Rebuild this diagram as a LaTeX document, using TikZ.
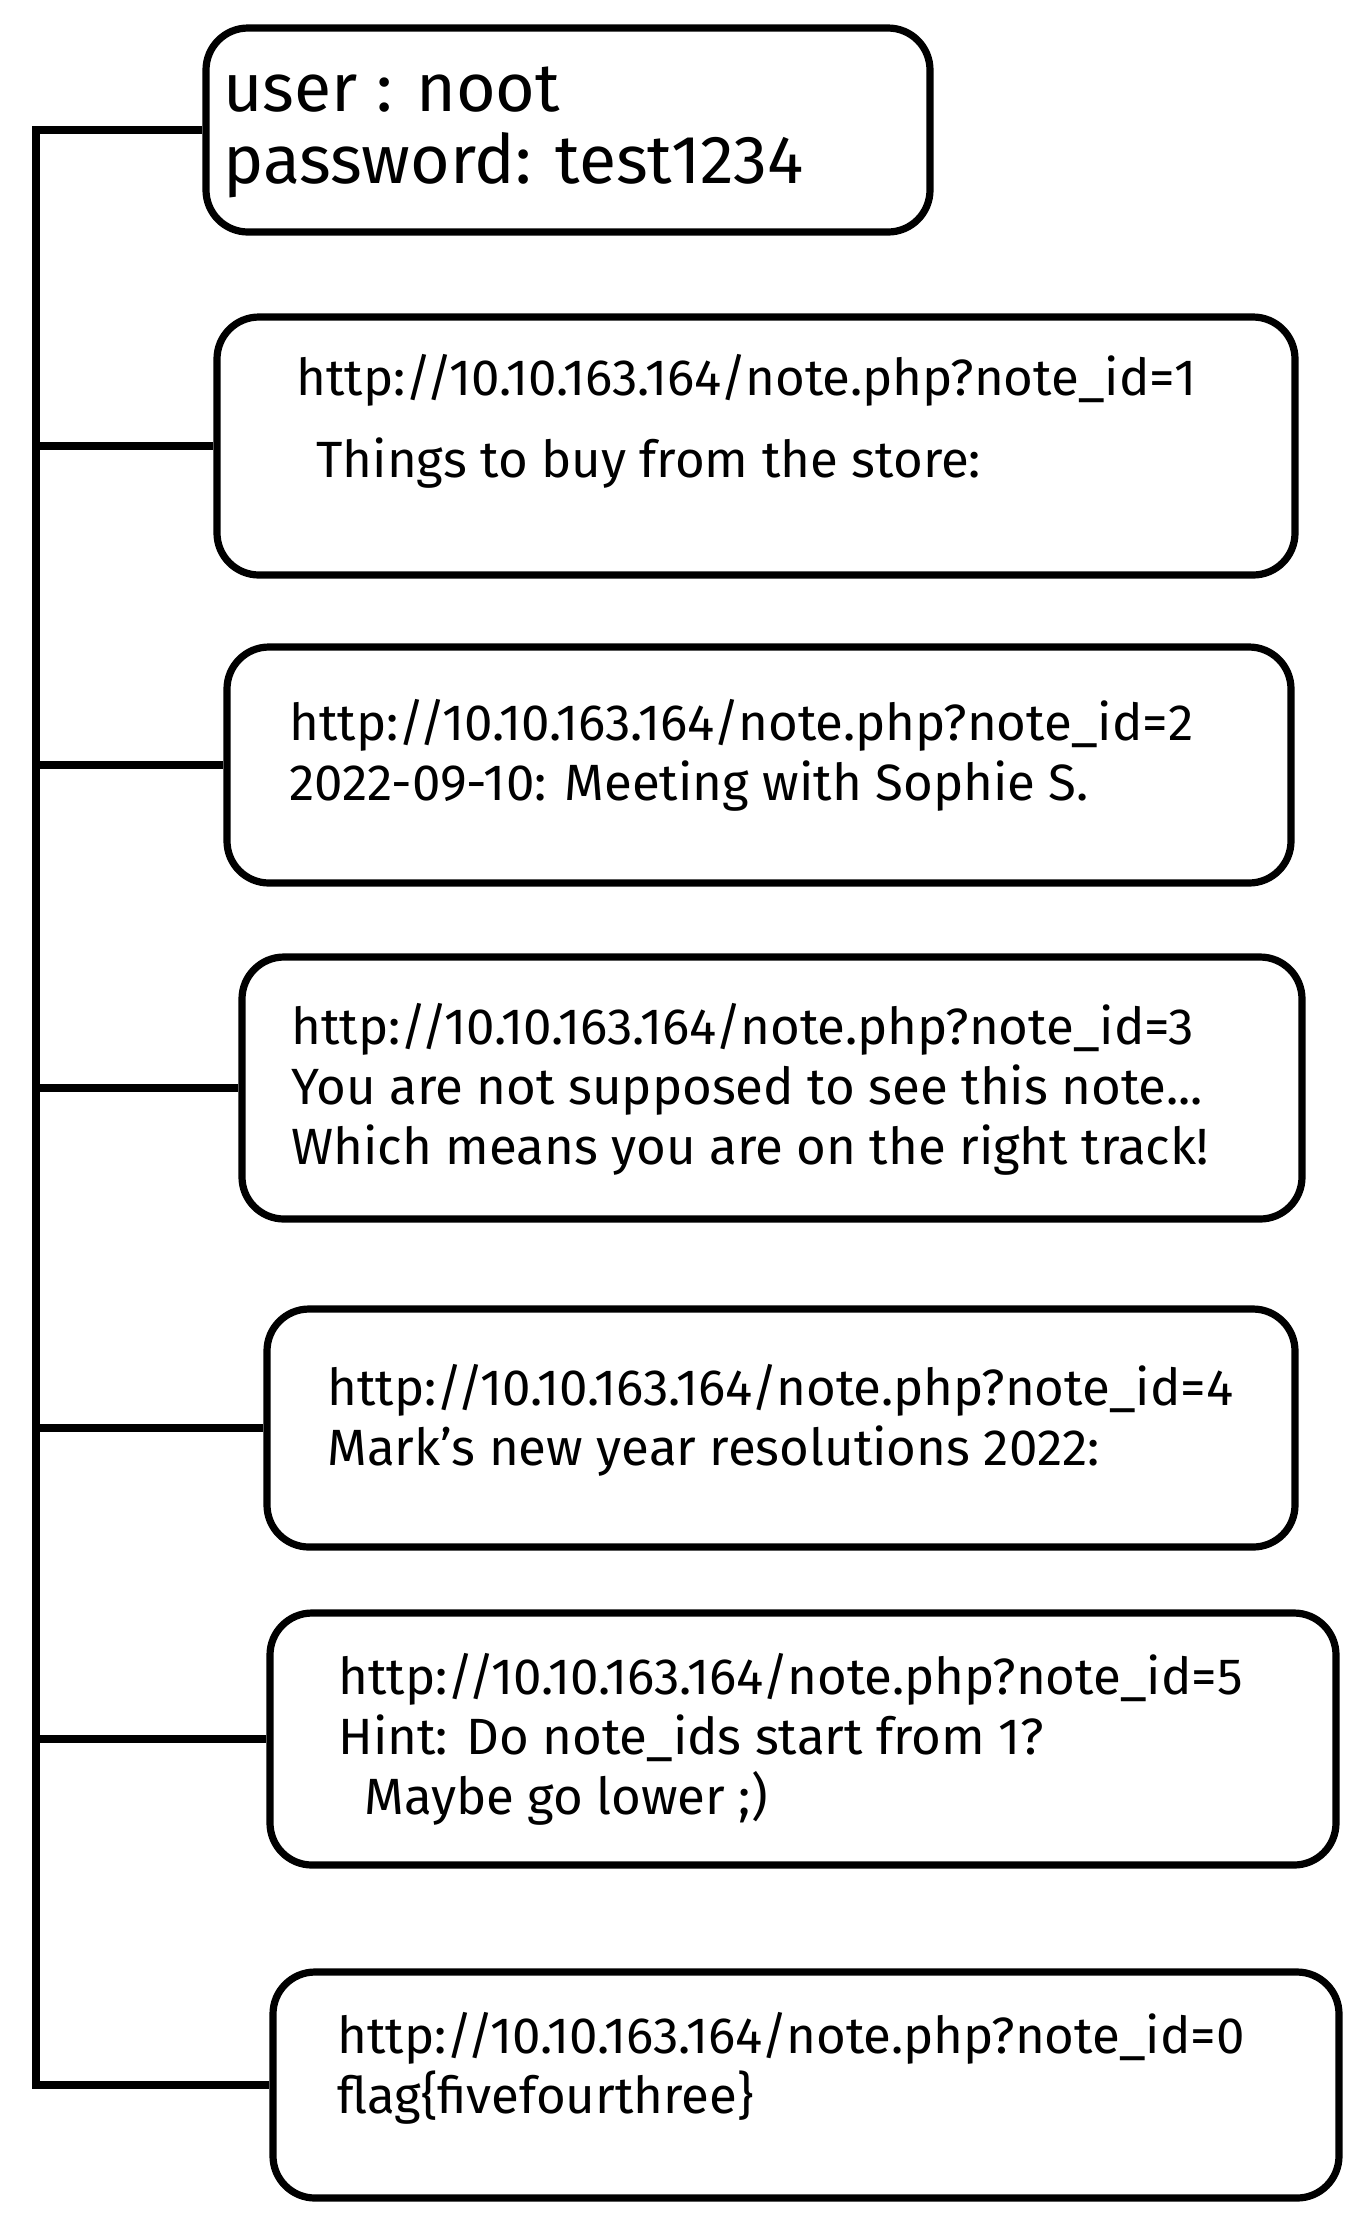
\documentclass[tikz,border=0pt]{standalone}
\usepackage{fontspec}
\setmainfont{Fira Sans}
\begin{document}
\begin{tikzpicture}[x=0.5pt,y=-0.5pt,
  note/.style={draw, line width=3.6pt, rounded corners=21pt, inner sep=0pt},
  notetext/.style={anchor=west, align=left, inner sep=0pt, font=\fontsize{25.5}{30}\selectfont},
  link/.style={line width=4pt}]
\useasboundingbox (0,0) rectangle (1369,2229);
\coordinate (spine) at (36,0);
% credentials
\node[note, minimum width=362pt, minimum height=102pt] (n0) at (568,130) {};
\node[notetext, font=\fontsize{34}{36}\selectfont] (t0) at (223,132) {user : noot\\password: test1234};
% notes
\node[note, minimum width=539pt, minimum height=129pt] (n1) at (756,446) {};
\node[notetext] (t1) at (296,421) {http://10.10.163.164/note.php?note\_id=1\\[11pt]\hspace{10pt}Things to buy from the store:};
\node[note, minimum width=532pt, minimum height=118pt] (n2) at (759,765) {};
\node[notetext] (t2) at (289,755) {http://10.10.163.164/note.php?note\_id=2\\2022-09-10: Meeting with Sophie S.};
\node[note, minimum width=530pt, minimum height=131pt] (n3) at (772,1088) {};
\node[notetext] (t3) at (291,1089) {http://10.10.163.164/note.php?note\_id=3\\You are not supposed to see this note...\\Which means you are on the right track!};
\node[note, minimum width=514pt, minimum height=119pt] (n4) at (781,1428) {};
\node[notetext] (t4) at (327,1420) {http://10.10.163.164/note.php?note\_id=4\\Mark's new year resolutions 2022:};
\node[note, minimum width=533pt, minimum height=126pt] (n5) at (803,1739) {};
\node[notetext] (t5) at (338,1739) {http://10.10.163.164/note.php?note\_id=5\\Hint: Do note\_ids start from 1?\\\hspace{13pt}Maybe go lower ;)};
\node[note, minimum width=533pt, minimum height=113pt] (n6) at (806,2085) {};
\node[notetext] (t6) at (337,2068) {http://10.10.163.164/note.php?note\_id=0\\flag\{fivefourthree\}};
% tree
\draw[link] (n0.west) -- (n0.west -| spine) -- (n6.west -| spine) -- (n6.west);
\foreach \i in {1,...,5}
  \draw[link] (n\i.west -| spine) -- (n\i.west);
\end{tikzpicture}
\end{document}
